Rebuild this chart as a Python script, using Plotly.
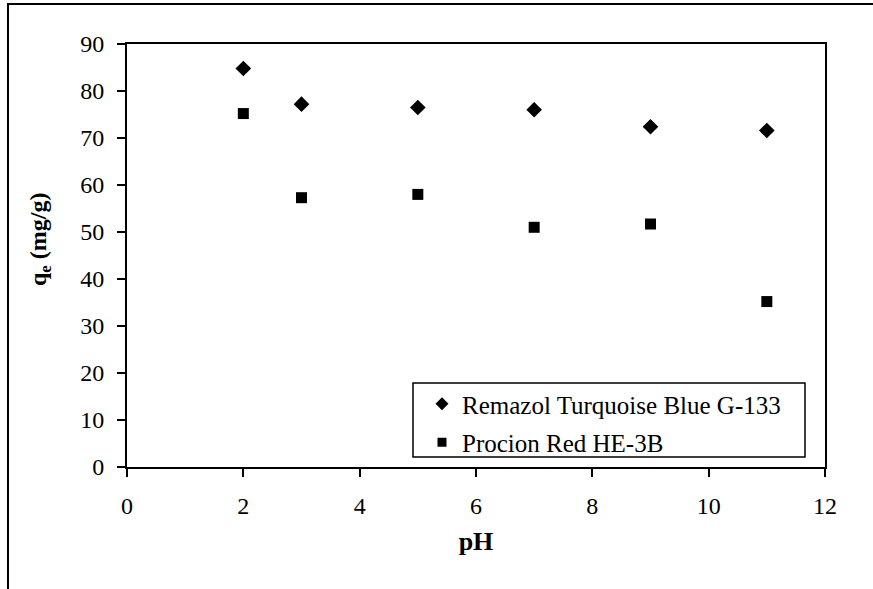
import plotly.graph_objects as go

ph = [2, 3, 5, 7, 9, 11]
remazol = [84.8, 77.2, 76.5, 76.0, 72.4, 71.6]
procion = [75.2, 57.3, 58.0, 51.0, 51.7, 35.2]
names = ["Remazol Turquoise Blue G-133", "Procion Red HE-3B"]

FONT = "Liberation Serif, Times New Roman, Tinos, DejaVu Serif, serif"

fig = go.Figure()
fig.add_trace(go.Scatter(x=ph, y=remazol, mode="markers", name=names[0], showlegend=False,
                         marker=dict(symbol="diamond", size=12, color="black")))
fig.add_trace(go.Scatter(x=ph, y=procion, mode="markers", name=names[1], showlegend=False,
                         marker=dict(symbol="square", size=11, color="black")))
# legend entries (smaller symbols, as in the reference)
fig.add_trace(go.Scatter(x=[None], y=[None], mode="markers", name=names[0], legendgroup="a",
                         marker=dict(symbol="diamond", size=10, color="black")))
fig.add_trace(go.Scatter(x=[None], y=[None], mode="markers", name=names[1], legendgroup="b",
                         marker=dict(symbol="square", size=9, color="black")))

fig.update_layout(
    width=873, height=589,
    margin=dict(l=127, r=48, t=44, b=122),
    paper_bgcolor="white", plot_bgcolor="white",
    font=dict(family=FONT, size=24, color="black"),
    showlegend=True,
    legend=dict(x=(422 - 127) / 698, y=(467 - 381) / 423, xanchor="left", yanchor="top",
                borderwidth=0, bgcolor="rgba(0,0,0,0)",
                font=dict(family=FONT, size=25), tracegroupgap=3,
                itemwidth=30),
    xaxis=dict(range=[0, 12], tickvals=[0, 2, 4, 6, 8, 10, 12], showgrid=False, zeroline=False,
               showline=True, linecolor="black", linewidth=2, mirror=True,
               ticks="outside", ticklen=8, tickwidth=2, tickcolor="black",
               ticklabelstandoff=8,
               title=dict(text="<b>pH</b>", font=dict(size=26), standoff=14)),
    yaxis=dict(range=[0, 90], tickvals=list(range(0, 91, 10)), showgrid=False, zeroline=False,
               showline=True, linecolor="black", linewidth=2, mirror=True,
               ticks="outside", ticklen=8, tickwidth=2, tickcolor="black",
               ticklabelstandoff=8),
    annotations=[dict(text="<b>q<sub>e</sub> (mg/g)</b>", xref="paper", yref="paper",
                      x=(40 - 127) / 698, y=(467 - 240) / 423, xanchor="center", yanchor="middle",
                      textangle=-90, showarrow=False,
                      font=dict(family=FONT, size=24))],
    shapes=[dict(type="rect", xref="paper", yref="paper", x0=-0.1705, x1=1.3, y0=-0.5, y1=1.0946,
                 line=dict(color="black", width=2), layer="below"),
            dict(type="rect", xref="paper", yref="paper",
                 x0=(413 - 127) / 698, x1=(805 - 127) / 698,
                 y0=(467 - 457) / 423, y1=(467 - 383) / 423,
                 line=dict(color="black", width=1.5), fillcolor="white", layer="above")],
)

fig.write_html("out.html")
